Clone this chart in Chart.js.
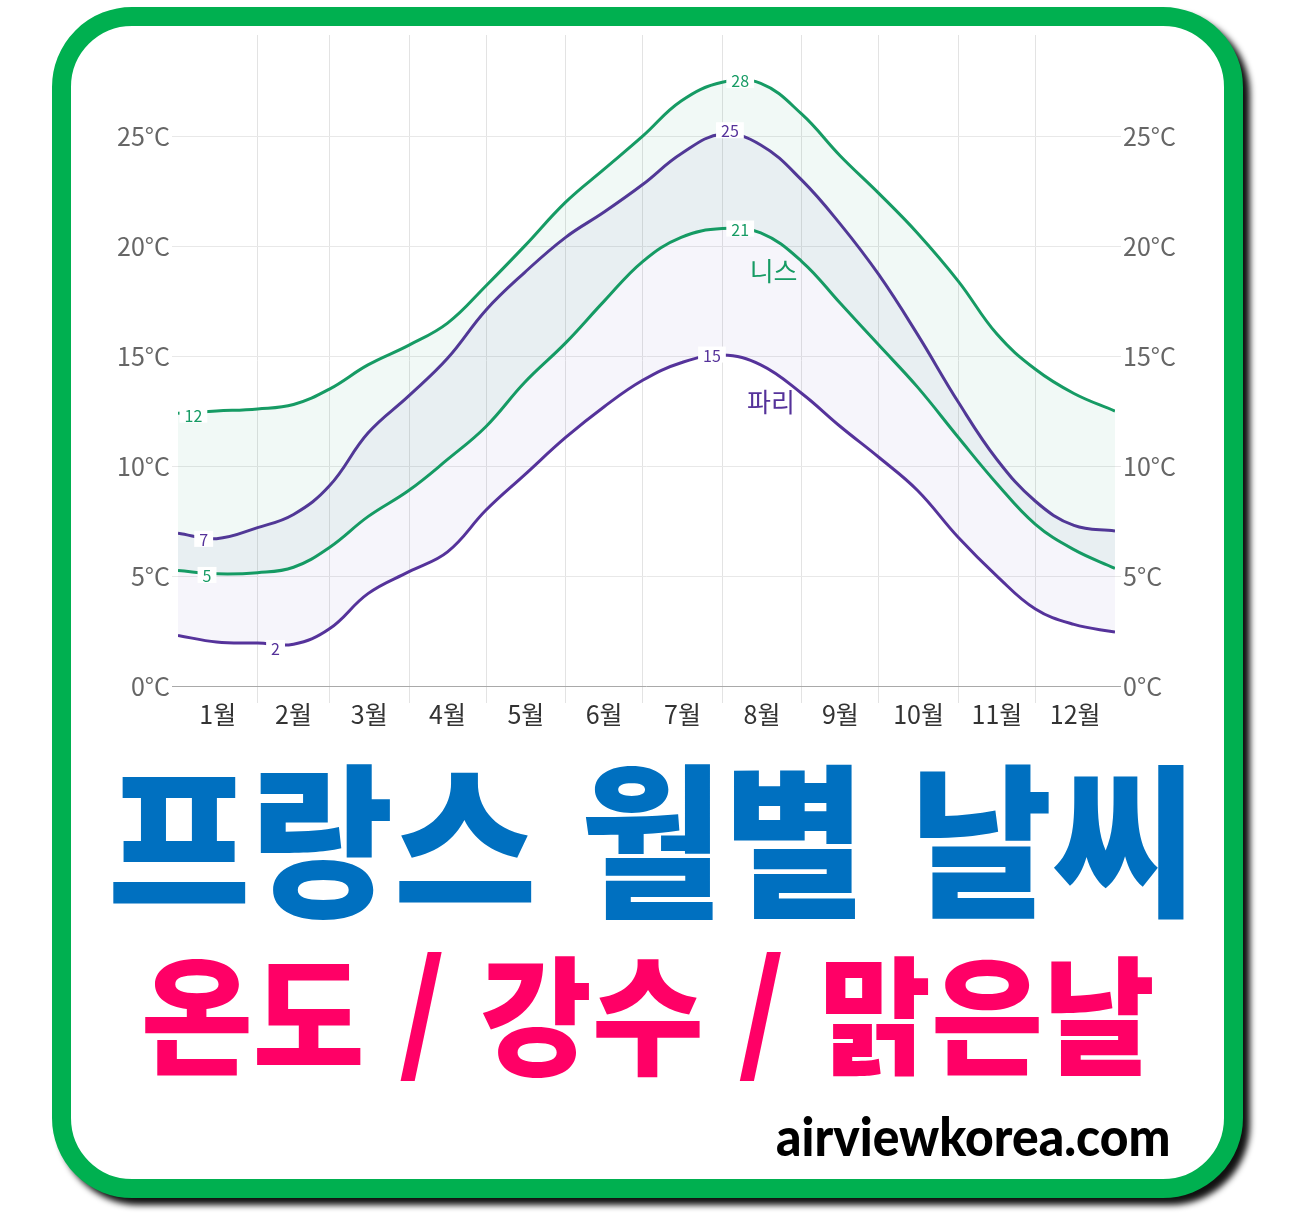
<!DOCTYPE html>
<html lang="ko">
<head>
<meta charset="utf-8">
<title>프랑스 월별 날씨</title>
<script src="https://cdn.jsdelivr.net/npm/chart.js@4.4.1/dist/chart.umd.min.js"></script>
<style>
    html, body { margin: 0; padding: 0; background: #fff; }
    body { width: 1314px; height: 1226px; position: relative; overflow: hidden; }
    .frame {
        position: absolute; left: 52px; top: 7px; width: 1191px; height: 1191px;
        box-sizing: border-box; border: 19px solid #00b050; border-radius: 80px;
        background: #fff; box-shadow: 7px 7px 6px #111;
    }
    #chart { position: absolute; left: 0; top: 0; }
    .ttl {
        position: absolute; left: 0; top: 0; white-space: pre;
        font-family: "Noto Sans CJK KR", sans-serif; font-weight: 900;
        font-size: 150px; line-height: 150px; transform-origin: 0 0;
    }
    #t1 { color: #0070c0; }
    #t2 { color: #ff0066; }
    #t3 { color: #000; font-family: Lato, "Noto Sans", sans-serif; font-size: 44px; line-height: 44px; }
</style>
</head>
<body>
<div class="frame"></div>
<canvas id="chart" width="1314" height="743"></canvas>
<div id="t1" class="ttl">프랑스 월별 날씨</div>
<div id="t2" class="ttl">온도 / 강수 / 맑은날</div>
<div id="t3" class="ttl">airviewkorea.com</div>

<script>
// day of year for each sample
const dayPoints = [0, 15, 31, 45, 59, 74, 90, 105, 120, 135, 151, 166, 181, 196, 212, 227, 243, 258, 273, 288, 304, 319, 334, 349, 365];

// Nice (니스) highs / lows, °C
const niceHigh = [12.4, 12.5, 12.6, 12.8, 13.5, 14.6, 15.5, 16.5, 18.2, 20.0, 22.0, 23.5, 25.0, 26.6, 27.45, 27.4, 26.0, 24.1, 22.4, 20.6, 18.4, 16.0, 14.4, 13.3, 12.5];
const niceLow = [5.25, 5.1, 5.15, 5.4, 6.3, 7.7, 8.9, 10.3, 11.8, 13.8, 15.6, 17.5, 19.3, 20.4, 20.8, 20.6, 19.3, 17.4, 15.5, 13.6, 11.3, 9.2, 7.35, 6.2, 5.35];

// Paris (파리) highs / lows, °C
const parisHigh = [6.95, 6.7, 7.2, 7.8, 9.1, 11.5, 13.2, 14.9, 17.1, 18.8, 20.4, 21.55, 22.8, 24.2, 25.1, 24.6, 23.0, 21.0, 18.7, 16.0, 12.9, 10.3, 8.4, 7.3, 7.05];
const parisLow = [2.3, 2.0, 1.95, 1.9, 2.6, 4.2, 5.2, 6.1, 8.0, 9.6, 11.3, 12.7, 13.9, 14.7, 15.05, 14.6, 13.3, 11.8, 10.4, 8.9, 6.75, 5.0, 3.5, 2.8, 2.45];

const monthLabels = ['1월', '2월', '3월', '4월', '5월', '6월', '7월', '8월', '9월', '10월', '11월', '12월'];
const monthDays = [31, 28, 31, 30, 31, 30, 31, 31, 30, 31, 30, 31];
const yTickValues = [0, 5, 10, 15, 20, 25];

// small number tags on the lines: [series, day, value, text]
const valueTags = [
    ['nice', 219, 27.55, '28'],
    ['paris', 215, 25.27, '25'],
    ['nice', 219, 20.8, '21'],
    ['paris', 208, 15.07, '15'],
    ['nice', 6, 12.34, '12'],
    ['paris', 10, 6.69, '7'],
    ['nice', 11.3, 5.05, '5'],
    ['paris', 38, 1.73, '2']
];
const cityTags = [
    ['nice', 232, 18.85, '니스'],
    ['paris', 231, 12.93, '파리']
];

const colors = { nice: '#169b64', paris: '#55329a' };

const monthStarts = [];
const monthMids = [];
let acc = 0;
monthDays.forEach(d => {
    monthStarts.push(acc);
    monthMids.push(acc + d / 2);
    acc += d;
});

function toPoints(values) {
    return values.map((v, i) => ({ x: dayPoints[i], y: v }));
}

const tagPlugin = {
    id: 'tags',
    afterDatasetsDraw(chart) {
        const { ctx, scales } = chart;
        ctx.save();
        ctx.textAlign = 'center';
        ctx.textBaseline = 'middle';
        ctx.font = '16px "Noto Sans CJK KR"';
        valueTags.forEach(([series, day, value, text]) => {
            const px = scales.x.getPixelForValue(day);
            const py = scales.y.getPixelForValue(value);
            const w = ctx.measureText(text).width + 10;
            ctx.fillStyle = '#fff';
            ctx.fillRect(px - w / 2, py - 8, w, 16);
            ctx.fillStyle = colors[series];
            ctx.fillText(text, px, py + 1);
        });
        ctx.font = '26px "Noto Sans CJK KR"';
        cityTags.forEach(([series, day, value, text]) => {
            ctx.fillStyle = colors[series];
            ctx.fillText(text, scales.x.getPixelForValue(day), scales.y.getPixelForValue(value));
        });
        ctx.restore();
    }
};

function gridColor(c) {
    return c.tick && c.tick.value === 0 ? '#a9a9a9' : '#e8e8e8';
}

function yAxis(position, width, onChart) {
    return {
        type: 'linear',
        position: position,
        min: 0,
        max: 29.6,
        afterBuildTicks: axis => { axis.ticks = yTickValues.map(v => ({ value: v })); },
        afterFit: axis => { axis.width = width; },
        ticks: {
            padding: 2,
            color: '#666',
            font: { size: 25 },
            callback: v => v + '°C'
        },
        grid: { color: gridColor, tickLength: 6, drawOnChartArea: onChart },
        border: { display: false }
    };
}

function initChart() {
    Chart.defaults.font.family = '"Noto Sans CJK KR", "Noto Sans", sans-serif';
    const ctx = document.getElementById('chart').getContext('2d');

    new Chart(ctx, {
        type: 'line',
        data: {
            datasets: [
                { data: toPoints(niceHigh), borderColor: colors.nice, backgroundColor: 'rgba(20,160,100,0.06)', fill: '+1' },
                { data: toPoints(niceLow), borderColor: colors.nice, fill: false },
                { data: toPoints(parisHigh), borderColor: colors.paris, backgroundColor: 'rgba(100,80,190,0.06)', fill: '+1' },
                { data: toPoints(parisLow), borderColor: colors.paris, fill: false }
            ]
        },
        options: {
            responsive: false,
            animation: false,
            layout: { padding: { top: 35, left: 0, right: 0, bottom: 0 } },
            elements: {
                point: { radius: 0 },
                line: { borderWidth: 3, tension: 0.4 }
            },
            plugins: {
                legend: { display: false },
                tooltip: { enabled: false }
            },
            scales: {
                x: {
                    type: 'linear',
                    position: 'bottom',
                    weight: 0,
                    min: 0,
                    max: 365,
                    afterBuildTicks: axis => { axis.ticks = monthStarts.slice(1).map(v => ({ value: v })); },
                    afterFit: axis => { axis.height = 17; },
                    ticks: { display: false },
                    grid: { color: '#e3e3e3', tickLength: 17 },
                    border: { display: false }
                },
                x2: {
                    type: 'linear',
                    position: 'bottom',
                    weight: 1,
                    min: 0,
                    max: 365,
                    afterBuildTicks: axis => { axis.ticks = monthMids.map(v => ({ value: v })); },
                    afterFit: axis => { axis.height = 40; },
                    ticks: {
                        autoSkip: false,
                        maxRotation: 0,
                        padding: -4,
                        color: '#333',
                        font: { size: 25 },
                        callback: (v, i) => monthLabels[i]
                    },
                    grid: { display: false, drawTicks: false },
                    border: { display: false }
                },
                y: yAxis('left', 178, true),
                y2: yAxis('right', 199, false)
            }
        },
        plugins: [tagPlugin]
    });
}

// title boxes in page pixels (ink extents)
const titleBoxes = [
    { id: 't1', x: 113, y: 764, w: 1055, h: 157 },
    { id: 't2', x: 145, y: 956, w: 982, h: 133 },
    { id: 't3', x: 776, y: 1116, w: 392, h: 40 }
];

function fitTitle(box) {
    const el = document.getElementById(box.id);
    const cs = getComputedStyle(el);
    const m = document.createElement('canvas').getContext('2d');
    m.font = cs.fontWeight + ' ' + cs.fontSize + ' ' + cs.fontFamily;
    const t = m.measureText(el.textContent);
    const lh = parseFloat(cs.lineHeight);
    const base = (lh - t.fontBoundingBoxAscent - t.fontBoundingBoxDescent) / 2 + t.fontBoundingBoxAscent;
    const inkW = t.actualBoundingBoxLeft + t.actualBoundingBoxRight;
    const inkH = t.actualBoundingBoxAscent + t.actualBoundingBoxDescent;
    const sx = box.w / inkW;
    const sy = box.h / inkH;
    const tx = box.x + sx * t.actualBoundingBoxLeft;
    const ty = box.y - sy * (base - t.actualBoundingBoxAscent);
    el.style.transform = `translate(${tx}px, ${ty}px) scale(${sx}, ${sy})`;
}

document.addEventListener('DOMContentLoaded', function() {
    initChart();
    titleBoxes.forEach(fitTitle);
});
</script>
</body>
</html>
